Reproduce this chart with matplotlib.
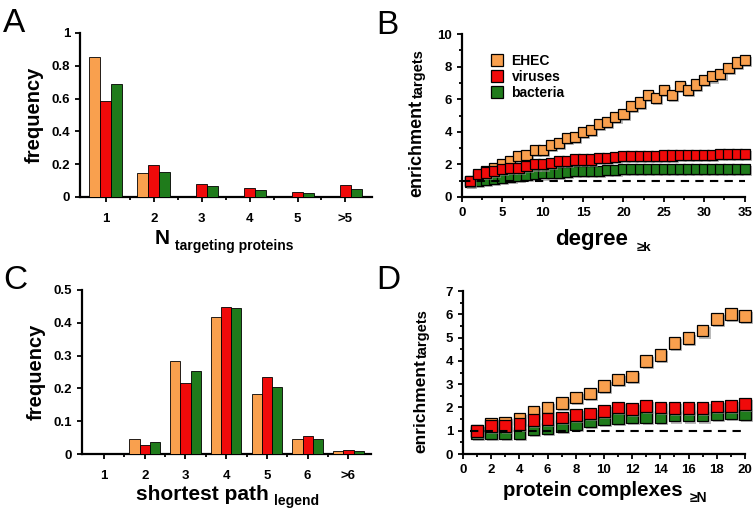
import numpy as np
import matplotlib
matplotlib.use("Agg")
import matplotlib.pyplot as plt
import matplotlib.patheffects as pe
from matplotlib.ticker import MultipleLocator
from matplotlib.lines import Line2D

plt.rcParams['font.family'] = ['Liberation Sans', 'DejaVu Sans']
plt.rcParams['font.weight'] = 'bold'

ORANGE = '#F9A04E'
RED = '#F00A0A'
GREEN = '#1F7B1B'

# panel A: number of targeting proteins
cats_a = ['1', '2', '3', '4', '5', '>5']
ehec_a = [0.855, 0.148, 0.0, 0.0, 0.0, 0.0]
vir_a = [0.583, 0.197, 0.081, 0.053, 0.033, 0.073]
bac_a = [0.689, 0.150, 0.065, 0.040, 0.024, 0.050]

# panel C: shortest path
cats_c = ['1', '2', '3', '4', '5', '6', '>6']
ehec_c = [0.0, 0.047, 0.284, 0.419, 0.184, 0.047, 0.009]
vir_c = [0.0, 0.027, 0.215, 0.447, 0.234, 0.056, 0.011]
bac_c = [0.0, 0.037, 0.254, 0.445, 0.204, 0.046, 0.009]

# panel B: enrichment vs degree >= k
k_vals = list(range(1, 36))
ehec_b = [1.0, 1.3, 1.6, 1.8, 2.0, 2.2, 2.5, 2.6, 2.9, 2.9,
          3.2, 3.3, 3.6, 3.7, 4.0, 4.1, 4.5, 4.6, 4.9, 5.1,
          5.6, 5.8, 6.25, 6.1, 6.55, 6.25, 6.8, 6.55, 6.9, 7.2,
          7.4, 7.55, 7.9, 8.25, 8.4]
vir_b = [1.0, 1.4, 1.5, 1.6, 1.7, 1.8, 1.8, 1.9, 2.0, 2.0,
         2.1, 2.2, 2.2, 2.3, 2.3, 2.3, 2.4, 2.4, 2.45, 2.5,
         2.5, 2.5, 2.5, 2.5, 2.55, 2.55, 2.6, 2.6, 2.6, 2.6,
         2.6, 2.65, 2.65, 2.65, 2.65]
bac_b = [0.9, 1.0, 1.05, 1.1, 1.2, 1.25, 1.3, 1.35, 1.4, 1.45,
         1.5, 1.5, 1.55, 1.6, 1.6, 1.6, 1.6, 1.65, 1.65, 1.7,
         1.7, 1.7, 1.7, 1.7, 1.7, 1.7, 1.7, 1.7, 1.7, 1.7,
         1.7, 1.7, 1.7, 1.7, 1.7]

# panel D: enrichment vs protein complexes >= N
n_vals = list(range(1, 21))
ehec_d = [1.0, 1.3, 1.35, 1.5, 1.8, 2.0, 2.2, 2.43, 2.6, 2.93,
          3.2, 3.33, 4.0, 4.26, 4.76, 4.97, 5.3, 5.8, 6.02, 5.92]
vir_d = [1.0, 1.2, 1.2, 1.3, 1.46, 1.5, 1.57, 1.67, 1.74, 1.86,
         2.0, 1.93, 2.07, 2.0, 1.97, 1.97, 1.97, 2.04, 2.07, 2.16]
bac_d = [0.9, 0.9, 0.9, 0.9, 1.05, 1.1, 1.2, 1.3, 1.4, 1.5,
         1.55, 1.6, 1.6, 1.6, 1.65, 1.65, 1.65, 1.7, 1.75, 1.7]

W, H = 756, 513
shadow = [pe.SimplePatchShadow(offset=(1.5, -1.5), shadow_rgbFace='0.55', alpha=0.6), pe.Normal()]


def px(x, y):
    # pixel position (from top-left) -> figure fraction
    return x / W, 1 - y / H


def style_axes(ax):
    for s in ['top', 'right']:
        ax.spines[s].set_visible(False)
    for s in ['left', 'bottom']:
        ax.spines[s].set_linewidth(1.6)
    ax.tick_params(which='both', direction='out', width=1.3, labelsize=9.5)
    ax.tick_params(which='major', length=3.5)
    ax.tick_params(which='minor', length=2.5)
    for lab in ax.get_xticklabels() + ax.get_yticklabels():
        lab.set_fontweight('bold')


def bar_panel(ax, cats, series, width):
    x = np.arange(len(cats))
    for i, (vals, col) in enumerate(series):
        ax.bar(x + (i - 1) * width, vals, width, color=col, edgecolor='black',
               linewidth=0.6, zorder=3)
    ax.set_xticks(x)
    ax.set_xticklabels(cats)
    ax.set_xticks(x[:-1] + 0.5, minor=True)
    ax.tick_params(axis='x', which='major', length=0, pad=8)
    ax.set_xlim(-0.54, len(cats) - 0.45)


def scatter_panel(ax, xs, series, ms):
    for vals, col, z in series:
        ax.plot(xs, vals, 's', color=col, markersize=ms, markeredgecolor='black',
                markeredgewidth=0.9, clip_on=False, zorder=z, path_effects=shadow)


def xlabel_sub(main, sub, main_xy, main_size, sub_xy, sub_size):
    fig.text(*px(*main_xy), main, fontsize=main_size, fontweight='bold', va='baseline')
    fig.text(*px(*sub_xy), sub, fontsize=sub_size, fontweight='bold', va='baseline')


def ylabel_sub(main, sub, main_xy, main_size, sub_xy, sub_size):
    fig.text(*px(*main_xy), main, fontsize=main_size, fontweight='bold', rotation=90,
             rotation_mode='anchor', ha='left', va='baseline')
    fig.text(*px(*sub_xy), sub, fontsize=sub_size, fontweight='bold', rotation=90,
             rotation_mode='anchor', ha='left', va='baseline')


fig = plt.figure(figsize=(W / 100, H / 100), dpi=100)

# ---- A
ax_a = fig.add_axes([0.1058, 0.616, 0.386, 0.3197])
bar_panel(ax_a, cats_a, [(ehec_a, ORANGE), (vir_a, RED), (bac_a, GREEN)], 0.23)
ax_a.set_ylim(0, 1)
ax_a.set_yticks([0, 0.2, 0.4, 0.6, 0.8, 1.0])
ax_a.set_yticklabels(['0', '0.2', '0.4', '0.6', '0.8', '1'])
ax_a.set_ylabel('frequency', fontsize=14.5, fontweight='bold', labelpad=6)
style_axes(ax_a)
xlabel_sub('N', 'targeting proteins', (155, 244), 15, (175, 250), 10)

# ---- C
ax_c = fig.add_axes([0.1085, 0.115, 0.382, 0.3197])
bar_panel(ax_c, cats_c, [(ehec_c, ORANGE), (vir_c, RED), (bac_c, GREEN)], 0.25)
ax_c.set_ylim(0, 0.5)
ax_c.set_yticks([0, 0.1, 0.2, 0.3, 0.4, 0.5])
ax_c.set_yticklabels(['0', '0.1', '0.2', '0.3', '0.4', '0.5'])
ax_c.set_ylabel('frequency', fontsize=14.5, fontweight='bold', labelpad=6)
style_axes(ax_c)
xlabel_sub('shortest path', 'legend', (136, 500), 15, (274, 505), 10)

# ---- B
ax_b = fig.add_axes([0.611, 0.616, 0.374, 0.3177])
scatter_panel(ax_b, k_vals, [(ehec_b, ORANGE, 3), (bac_b, GREEN, 4), (vir_b, RED, 5)], 7.3)
ax_b.plot([0, 35], [1, 1], '--', color='black', linewidth=1.5, dashes=(4, 3), zorder=6)
ax_b.set_xlim(0, 35)
ax_b.set_ylim(0, 10)
ax_b.xaxis.set_major_locator(MultipleLocator(5))
ax_b.xaxis.set_minor_locator(MultipleLocator(2.5))
ax_b.yaxis.set_major_locator(MultipleLocator(2))
ax_b.yaxis.set_minor_locator(MultipleLocator(1))
style_axes(ax_b)
handles = [Line2D([], [], marker='s', linestyle='None', color=c, markeredgecolor='black',
                  markersize=8.5, markeredgewidth=0.9) for c in [ORANGE, RED, GREEN]]
ax_b.legend(handles, ['EHEC', 'viruses', 'bacteria'], loc='upper left',
            bbox_to_anchor=(0.055, 0.957), frameon=False, handletextpad=0.55,
            labelspacing=0.16, handlelength=1.0, prop={'size': 10, 'weight': 'bold'})
xlabel_sub('degree', '\u2265k', (555, 245), 16, (637, 251), 9.5)
ylabel_sub('enrichment', 'targets', (421, 197), 13, (423, 98), 10.5)

# ---- D
ax_d = fig.add_axes([0.6124, 0.115, 0.373, 0.3177])
scatter_panel(ax_d, n_vals, [(ehec_d, ORANGE, 3), (bac_d, GREEN, 4), (vir_d, RED, 5)], 8.4)
ax_d.plot([0.5, 20], [1, 1], '--', color='black', linewidth=1.5, dashes=(4, 3), zorder=6)
ax_d.set_xlim(0, 20)
ax_d.set_ylim(0, 7)
ax_d.xaxis.set_major_locator(MultipleLocator(2))
ax_d.xaxis.set_minor_locator(MultipleLocator(1))
ax_d.yaxis.set_major_locator(MultipleLocator(1))
ax_d.yaxis.set_minor_locator(MultipleLocator(0.5))
style_axes(ax_d)
xlabel_sub('protein complexes', '\u2265N', (503, 496), 14.7, (690, 502), 10)
ylabel_sub('enrichment', 'targets', (425, 453), 12.5, (427, 358), 10.5)

# panel letters
for letter, x, y in [('A', 3, 32), ('B', 376, 34), ('C', 3, 289), ('D', 376, 289)]:
    fig.text(*px(x, y), letter, fontsize=24, fontweight='normal', va='baseline')

fig.savefig('out.png', dpi=100)
